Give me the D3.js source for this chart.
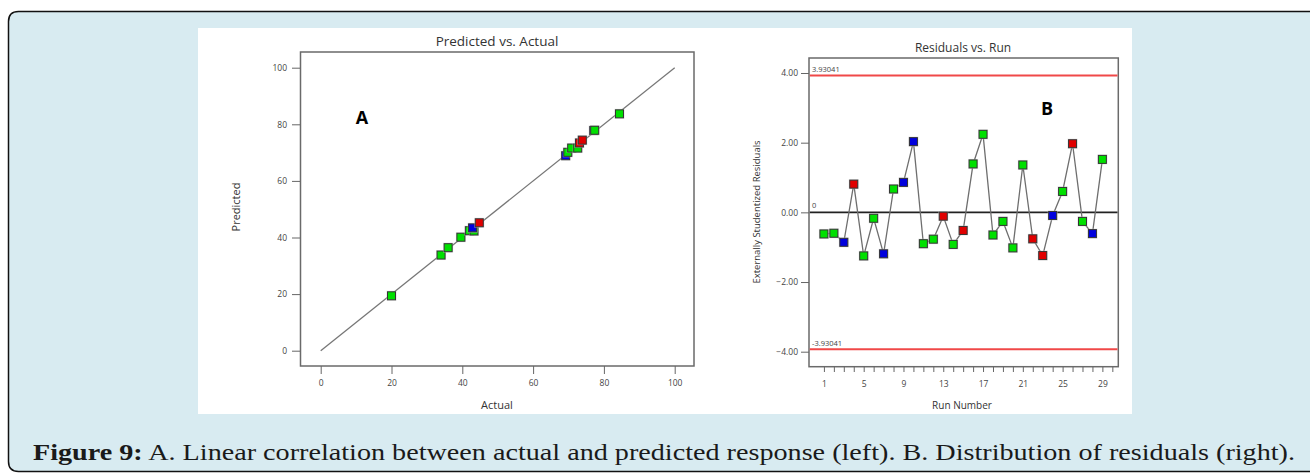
<!DOCTYPE html>
<html>
<head>
<meta charset="utf-8">
<script src="https://cdn.jsdelivr.net/npm/d3@7"></script>
<style>
  body { margin: 0; background: #fff; }
  text { font-family: "Open Sans", "Noto Sans", sans-serif; }
</style>
</head>
<body>
<svg width="1310" height="473"></svg>
<script>
// left plot: predicted vs actual
var actual    = [20, 34, 36, 39.6, 42, 43.3, 42.9, 44.8, 69.2, 69.8, 70.9, 72.6, 73.1, 73.9, 77.1, 77.4, 84.4];
var predicted = [19.4, 33.8, 36.4, 40.1, 42.4, 42.3, 43.4, 45.2, 68.9, 70.1, 71.6, 71.6, 73.4, 74.4, 77.8, 77.9, 83.7];
var groupA    = ["g","g","g","g","g","g","b","r","b","g","g","g","r","r","b","g","g"];
var axisTicksA = [0, 20, 40, 60, 80, 100];

// right plot: residuals vs run
var runs = d3.range(1, 30);
var residuals = [-0.62, -0.60, -0.86, 0.81, -1.25, -0.17, -1.19, 0.67, 0.86, 2.03,
                 -0.90, -0.77, -0.11, -0.92, -0.52, 1.39, 2.24, -0.65, -0.26, -1.02,
                 1.36, -0.76, -1.24, -0.09, 0.60, 1.97, -0.26, -0.61, 1.52];
var groupB = ["g","g","b","r","g","g","b","g","b","b",
              "g","g","r","g","r","g","g","g","g","g",
              "g","r","r","b","g","r","g","b","g"];
var residTicks = [-4, -2, 0, 2, 4];
var runLabels = [1, 5, 9, 13, 17, 21, 25, 29];
var limit = 3.93041;

var colors = {g: "#00e000", b: "#0000dd", r: "#e00000"};

var svg = d3.select("svg");

// page panel
svg.append("path")
  .attr("d", "M1320,11.5 L18.5,11.5 Q8.5,11.5 8.5,21.5 L8.5,461.5 Q8.5,471.5 18.5,471.5 L1320,471.5")
  .attr("fill", "#d8ebf1").attr("stroke", "#111").attr("stroke-width", 1.5);
svg.append("rect").attr("x", 198).attr("y", 28).attr("width", 934).attr("height", 386).attr("fill", "#fff");

function marker(g, x, y, c) {
  g.append("rect").attr("x", x - 5).attr("y", y - 5).attr("width", 10).attr("height", 10)
    .attr("fill", "#ccc").attr("opacity", 0.6);
  g.append("rect").attr("x", x - 4).attr("y", y - 4).attr("width", 8).attr("height", 8)
    .attr("fill", colors[c]).attr("stroke", "#333").attr("stroke-width", 1);
}

function styleAxis(g) {
  g.select(".domain").remove();
  g.selectAll(".tick line").attr("stroke", "#666");
  g.selectAll(".tick text").attr("fill", "#444").style("font-size", "8.5px");
}

// ---------- A ----------
var xA = d3.scaleLinear().domain([0, 100]).range([320.7, 674.7]);
var yA = d3.scaleLinear().domain([0, 100]).range([350.7, 67.7]);
var gA = svg.append("g");

gA.append("rect").attr("x", 300.5).attr("y", 52).attr("width", 393.5).attr("height", 314)
  .attr("fill", "none").attr("stroke", "#6a6a6a").attr("stroke-width", 1.5);

gA.append("g").attr("transform", "translate(300,0)")
  .call(d3.axisLeft(yA).tickValues(axisTicksA).tickSize(8).tickPadding(5))
  .call(styleAxis);
gA.append("g").attr("transform", "translate(0,366)")
  .call(d3.axisBottom(xA).tickValues(axisTicksA).tickSize(8).tickPadding(6))
  .call(styleAxis);

gA.append("line")
  .attr("x1", xA(0)).attr("y1", yA(0)).attr("x2", xA(100)).attr("y2", yA(100))
  .attr("stroke", "#777").attr("stroke-width", 1.3);

actual.forEach(function(d, i) { marker(gA, xA(d), yA(predicted[i]), groupA[i]); });

gA.append("text").attr("x", 497).attr("y", 46).attr("text-anchor", "middle")
  .style("font-size", "13.5px").attr("fill", "#333").text("Predicted vs. Actual");
gA.append("text").attr("x", 497).attr("y", 409).attr("text-anchor", "middle")
  .style("font-size", "11px").attr("fill", "#333").text("Actual");
gA.append("text").attr("transform", "translate(240,207) rotate(-90)").attr("text-anchor", "middle")
  .style("font-size", "11px").attr("fill", "#333").text("Predicted");
gA.append("text").attr("x", 362).attr("y", 124).attr("text-anchor", "middle")
  .style("font-size", "18px").style("font-weight", "bold").attr("fill", "#000").text("A");

// ---------- B ----------
var xB = d3.scaleLinear().domain([-0.5, 30.6]).range([809, 1118.3]);
var yB = d3.scaleLinear().domain([-4, 4]).range([351.7, 73]);
var gB = svg.append("g");

gB.append("rect").attr("x", 809).attr("y", 58).attr("width", 309.3).attr("height", 308.7)
  .attr("fill", "none").attr("stroke", "#6a6a6a").attr("stroke-width", 1.5);

gB.append("g").attr("transform", "translate(809,0)")
  .call(d3.axisLeft(yB).tickValues(residTicks).tickFormat(d3.format(".2f")).tickSize(8).tickPadding(3))
  .call(styleAxis);
gB.append("g").attr("transform", "translate(0,367)")
  .call(d3.axisBottom(xB).tickValues(d3.range(1, 31)).tickSize(5).tickPadding(9)
    .tickFormat(function(d) { return runLabels.indexOf(d) >= 0 ? d : ""; }))
  .call(styleAxis);

// limit and zero lines
[limit, -limit].forEach(function(v) {
  gB.append("line").attr("x1", 809.8).attr("x2", 1117.5).attr("y1", yB(v)).attr("y2", yB(v))
    .attr("stroke", "#f04848").attr("stroke-width", 2);
});
gB.append("line").attr("x1", 809.8).attr("x2", 1117.5).attr("y1", yB(0)).attr("y2", yB(0))
  .attr("stroke", "#222").attr("stroke-width", 1.8);
gB.append("text").attr("x", 812).attr("y", yB(limit) - 3).style("font-size", "7.5px").attr("fill", "#444").text(limit.toFixed(5));
gB.append("text").attr("x", 812).attr("y", yB(-limit) - 3).style("font-size", "7.5px").attr("fill", "#444").text((-limit).toFixed(5));
gB.append("text").attr("x", 812).attr("y", yB(0) - 4).style("font-size", "7.5px").attr("fill", "#444").text("0");

var line = d3.line().x(function(d, i) { return xB(runs[i]); }).y(function(d) { return yB(d); });
gB.append("path").datum(residuals).attr("d", line)
  .attr("fill", "none").attr("stroke", "#6e6e6e").attr("stroke-width", 1.3);

residuals.forEach(function(d, i) { marker(gB, xB(runs[i]), yB(d), groupB[i]); });

gB.append("text").attr("x", 963).attr("y", 52).attr("text-anchor", "middle")
  .style("font-size", "12px").attr("fill", "#333").text("Residuals vs. Run");
gB.append("text").attr("x", 962).attr("y", 409).attr("text-anchor", "middle")
  .style("font-size", "10px").attr("fill", "#333").text("Run Number");
gB.append("text").attr("transform", "translate(760,212) rotate(-90)").attr("text-anchor", "middle")
  .style("font-size", "9.5px").attr("fill", "#333").text("Externally Studentized Residuals");
gB.append("text").attr("x", 1047).attr("y", 115).attr("text-anchor", "middle")
  .style("font-size", "18px").style("font-weight", "bold").attr("fill", "#000").text("B");

// caption
var cap = svg.append("text").attr("x", 33).attr("y", 460)
  .attr("textLength", 1262).attr("lengthAdjust", "spacingAndGlyphs")
  .style("font-family", "'Liberation Serif', 'DejaVu Serif', serif").style("font-size", "23.5px").attr("fill", "#1a1a1a");
cap.append("tspan").style("font-weight", "bold").text("Figure 9:");
cap.append("tspan").text(" A. Linear correlation between actual and predicted response (left). B. Distribution of residuals (right).");
</script>
</body>
</html>
